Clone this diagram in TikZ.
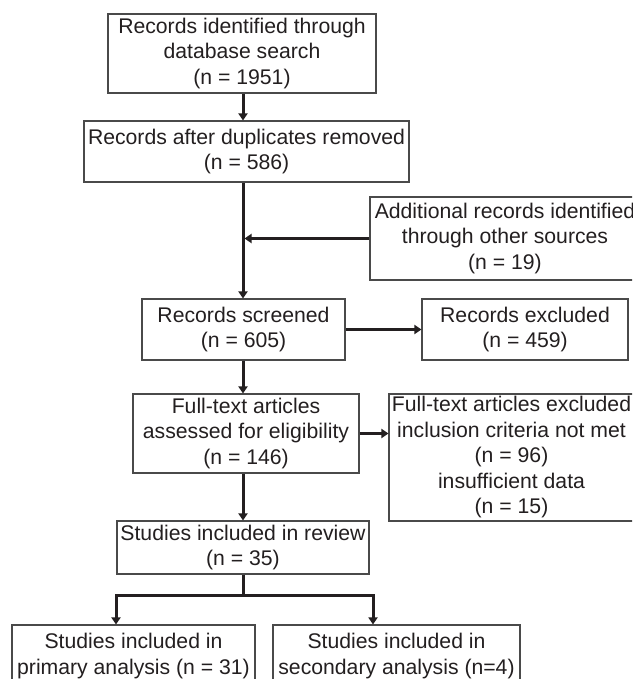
\documentclass[tikz,border=0pt]{standalone}
\usepackage{fontspec}
\setmainfont{Liberation Sans}
\usetikzlibrary{arrows.meta}
\definecolor{ink}{HTML}{231F20}
\definecolor{edge}{HTML}{4A4A4A}
\begin{document}
\begin{tikzpicture}[x=1pt,y=-1pt,
  box/.style={draw=edge, line width=1.1pt, inner sep=0pt, align=center, text=ink,
    font=\fontsize{21.2}{25.5}\selectfont},
  flow/.style={draw=ink, line width=3pt, -{Triangle[length=7pt,width=9pt]}},
  bar/.style={draw=ink, line width=3pt}]
\useasboundingbox (0,0) rectangle (632,679);
\fill[white] (0,0) rectangle (632,679);
\clip (0,0) rectangle (632,679);
% trunk reference
\coordinate (tr) at (243,0);
% boxes
\node[box, minimum width=268pt, minimum height=79pt] (b1) at (242,53.5)
  {Records identified through\\database search\\(n = 1951)};
\node[box, minimum width=325pt, minimum height=61pt] (b2) at (246.5,151.5)
  {Records after duplicates removed\\(n = 586)};
\node[box, minimum width=270pt, minimum height=83pt] (add) at (505,238.5)
  {Additional records identified\\through other sources\\(n = 19)};
\node[box, minimum width=203pt, minimum height=61pt] (b3) at (243.5,329.5)
  {Records screened\\(n = 605)};
\node[box, minimum width=206pt, minimum height=61pt] (exc) at (525,329.5)
  {Records excluded\\(n = 459)};
\node[box, minimum width=226pt, minimum height=79pt] (b4) at (246,433.5)
  {Full-text articles\\assessed for eligibility\\(n = 146)};
\node[box, minimum width=245pt, minimum height=127pt] (b5) at (511.5,457.5)
  {Full-text articles excluded\\inclusion criteria not met\\(n = 96)\\insufficient data\\(n = 15)};
\node[box, minimum width=252pt, minimum height=53pt] (b6) at (243,547.5)
  {Studies included in review\\(n = 35)};
\node[box, minimum width=243pt, minimum height=62pt] (b7) at (133.5,656)
  {Studies included in\\primary analysis (n = 31)};
\node[box, minimum width=247pt, minimum height=62pt] (b8) at (396.5,656)
  {Studies included in\\secondary analysis (n=4)};
% connectors
\draw[flow] (b1.south -| tr) -- (b2.north -| tr);
\draw[flow] (b2.south -| tr) -- (b3.north -| tr);
\draw[flow, shorten >=1.5pt] (add.west) -- (add.west -| tr);
\draw[flow] (b3.east) -- (exc.west);
\draw[flow] (b3.south -| tr) -- (b4.north -| tr);
\draw[flow] (b4.east) -- (b5.west |- b4.east);
\draw[flow] (b4.south -| tr) -- (b6.north -| tr);
\coordinate (sp) at (243,595);
\coordinate (bl) at (116,595);
\coordinate (br) at (373,595);
\draw[bar] (b6.south -| sp) -- (sp);
\draw[flow] (sp) -- (bl) -- (bl |- b7.north);
\draw[flow] (sp) -- (br) -- (br |- b8.north);
\end{tikzpicture}
\end{document}
